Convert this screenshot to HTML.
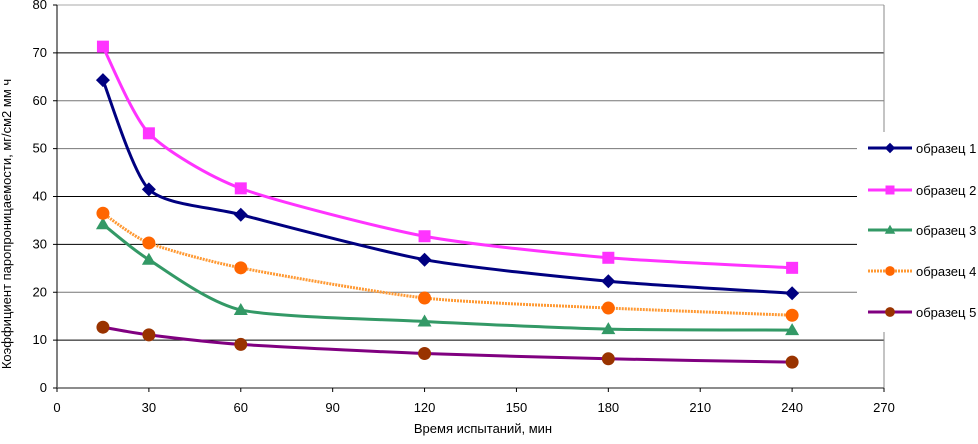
<!DOCTYPE html>
<html><head><meta charset="utf-8"><style>
body{margin:0;background:#fff;width:978px;height:439px;overflow:hidden}
text{font-family:"Liberation Sans",sans-serif;fill:#000}
</style></head><body>
<svg id="chart" width="978" height="439" xmlns="http://www.w3.org/2000/svg"></svg>
<script>
const xValues = [15, 30, 60, 120, 180, 240];
const sample1 = [64.3, 41.5, 36.2, 26.8, 22.3, 19.8];
const sample2 = [71.3, 53.2, 41.7, 31.7, 27.2, 25.1];
const sample3 = [34.2, 26.8, 16.3, 13.9, 12.3, 12.1];
const sample4 = [36.5, 30.3, 25.1, 18.8, 16.7, 15.2];
const sample5 = [12.7, 11.1, 9.1, 7.2, 6.1, 5.4];
const seriesNames = ['образец 1','образец 2','образец 3','образец 4','образец 5'];
const xTicks = [0,30,60,90,120,150,180,210,240,270];
const yTicks = [0,10,20,30,40,50,60,70,80];

const NS='http://www.w3.org/2000/svg';
const svg=document.getElementById('chart');
const X0=57,X1=884,Y0=388,Y1=5;
const sx=v=>X0+(v/270)*(X1-X0);
const sy=v=>Y0-(v/80)*(Y0-Y1);
function mk(tag,attrs,parent){const e=document.createElementNS(NS,tag);for(const k in attrs)e.setAttribute(k,attrs[k]);(parent||svg).appendChild(e);return e;}

const gridColors={10:'#000',20:'#777',30:'#000',40:'#000',50:'#777',60:'#777',70:'#000',80:'#aaa'};
yTicks.forEach(t=>{
  if(t>0){const g=mk('line',{x1:X0,x2:X1,y1:sy(t),y2:sy(t),stroke:gridColors[t],'stroke-width':1});
  
  }
  mk('line',{x1:X0-4,x2:X0,y1:sy(t),y2:sy(t),stroke:'#000'});
  const l=mk('text',{x:X0-10,y:sy(t)+4,'text-anchor':'end','font-size':13});l.textContent=t;
  
  
});
mk('line',{x1:X1,x2:X1,y1:Y1,y2:Y0,stroke:'#888'});
const ya=mk('line',{x1:X0,x2:X0,y1:Y1,y2:Y0,stroke:'#000'});


const xa=mk('line',{x1:X0,x2:X1,y1:Y0,y2:Y0,stroke:'#666','stroke-width':1.5});


xTicks.forEach(t=>{
  mk('line',{x1:sx(t),x2:sx(t),y1:Y0,y2:Y0+4,stroke:'#000'});
  const l=mk('text',{x:sx(t),y:Y0+24,'text-anchor':'middle','font-size':13});l.textContent=t;
  
  
});
const xt=mk('text',{x:483,y:433,'text-anchor':'middle','font-size':13});xt.textContent='Время испытаний, мин';


const yt=mk('text',{x:0,y:0,'text-anchor':'middle','font-size':13,transform:'translate(11,224) rotate(-90)'});yt.textContent='Коэффициент паропроницаемости, мг/см2 мм ч';



function smooth(pts){
  let d='M'+pts[0][0]+','+pts[0][1];
  for(let i=0;i<pts.length-1;i++){
    const p0=pts[i-1]||pts[i],p1=pts[i],p2=pts[i+1],p3=pts[i+2]||p2;
    const t=0.35/3;
    d+=' C'+(p1[0]+(p2[0]-p0[0])*t)+','+(p1[1]+(p2[1]-p0[1])*t)+' '+(p2[0]-(p3[0]-p1[0])*t)+','+(p2[1]-(p3[1]-p1[1])*t)+' '+p2[0]+','+p2[1];
  }
  return d;
}
function marker(type,x,y,color,stroke,parent,size){
  const s=size||1;
  if(type==='diamond') return mk('polygon',{points:`${x},${y-7*s} ${x+7*s},${y} ${x},${y+7*s} ${x-7*s},${y}`,fill:color},parent);
  if(type==='square') return mk('rect',{x:x-6*s,y:y-6*s,width:12*s,height:12*s,fill:color},parent);
  if(type==='triangle') return mk('polygon',{points:`${x},${y-7*s} ${x+7*s},${y+5*s} ${x-7*s},${y+5*s}`,fill:color},parent);
  return mk('circle',{cx:x,cy:y,r:6.5*s,fill:color},parent);
}
const allSeries=[sample1,sample2,sample3,sample4,sample5];
const styles=[
  {line:'#000080',mk:'#000080',type:'diamond'},
  {line:'#ff33ff',mk:'#ff33ff',type:'square'},
  {line:'#339966',mk:'#339966',type:'triangle'},
  {line:'#ff9933',mk:'#ff6600',type:'circle',dash:'2,1'},
  {line:'#800080',mk:'#993300',type:'circle'}
];
allSeries.forEach((vals,i)=>{
  const g=mk('g',{});
  
  
  const pts=vals.map((v,j)=>[sx(xValues[j]),sy(v)]);
  const p=mk('path',{d:smooth(pts),fill:'none',stroke:styles[i].line,'stroke-width':3},g);
  if(styles[i].dash)p.setAttribute('stroke-dasharray',styles[i].dash);
  pts.forEach((pt,j)=>{
    const m=marker(styles[i].type,pt[0],pt[1],styles[i].mk,null,g);
    
    
  });
});
const lg=mk('g',{});


mk('rect',{x:857,y:132,width:121,height:200,fill:'#fff'},lg);
const ly=[148,190,230,271,312];
seriesNames.forEach((n,i)=>{
  const e=mk('g',{},lg);
  
  
  const l=mk('line',{x1:868,x2:912,y1:ly[i],y2:ly[i],stroke:styles[i].line,'stroke-width':3},e);
  if(styles[i].dash)l.setAttribute('stroke-dasharray',styles[i].dash);
  marker(styles[i].type,890,ly[i],styles[i].mk,null,e,0.75);
  const t=mk('text',{x:916,y:ly[i]+5,'font-size':13},e);t.textContent=n;
});
</script>
</body></html>
